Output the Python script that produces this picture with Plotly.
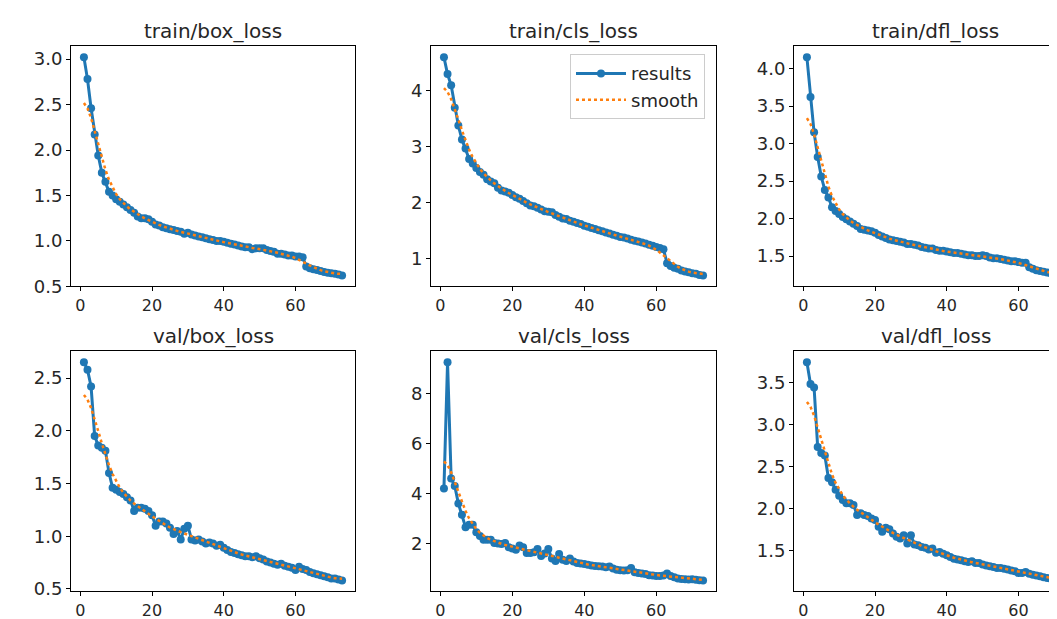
import numpy as np
import plotly.graph_objects as go

epochs = list(range(1, 74))

train_box_loss = [3.02, 2.78, 2.46, 2.17, 1.94, 1.75, 1.65, 1.54, 1.50, 1.46,
                  1.43, 1.40, 1.37, 1.34, 1.31, 1.27, 1.25, 1.25, 1.24, 1.21,
                  1.18, 1.17, 1.15, 1.14, 1.13, 1.12, 1.11, 1.10, 1.08, 1.09,
                  1.07, 1.06, 1.05, 1.04, 1.03, 1.02, 1.01, 1.00, 1.00, 0.99,
                  0.98, 0.97, 0.96, 0.95, 0.94, 0.93, 0.93, 0.91, 0.92, 0.92,
                  0.92, 0.90, 0.89, 0.88, 0.86, 0.86, 0.85, 0.84, 0.84, 0.83,
                  0.83, 0.82, 0.72, 0.70, 0.69, 0.68, 0.67, 0.66, 0.65, 0.645,
                  0.64, 0.63, 0.62]

train_cls_loss = [4.60, 4.30, 4.10, 3.70, 3.38, 3.13, 2.97, 2.78, 2.70, 2.62,
                  2.55, 2.50, 2.42, 2.38, 2.35, 2.27, 2.22, 2.20, 2.18, 2.14,
                  2.10, 2.07, 2.03, 1.99, 1.95, 1.94, 1.91, 1.88, 1.85, 1.84,
                  1.83, 1.78, 1.75, 1.72, 1.71, 1.68, 1.66, 1.64, 1.62, 1.59,
                  1.57, 1.55, 1.53, 1.51, 1.49, 1.47, 1.45, 1.43, 1.41, 1.39,
                  1.38, 1.36, 1.34, 1.32, 1.31, 1.29, 1.27, 1.25, 1.23, 1.21,
                  1.19, 1.17, 0.92, 0.87, 0.84, 0.82, 0.79, 0.77, 0.76, 0.74,
                  0.73, 0.71, 0.70]

train_dfl_loss = [4.15, 3.62, 3.15, 2.82, 2.56, 2.38, 2.28, 2.15, 2.10, 2.06,
                  2.02, 1.99, 1.96, 1.93, 1.90, 1.86, 1.85, 1.84, 1.83, 1.81,
                  1.78, 1.76, 1.74, 1.72, 1.71, 1.70, 1.69, 1.68, 1.66, 1.66,
                  1.65, 1.64, 1.62, 1.61, 1.60, 1.60, 1.58, 1.57, 1.57, 1.56,
                  1.55, 1.54, 1.54, 1.53, 1.52, 1.51, 1.51, 1.50, 1.50, 1.51,
                  1.50, 1.48, 1.47, 1.47, 1.46, 1.45, 1.44, 1.43, 1.43, 1.42,
                  1.41, 1.41, 1.35, 1.33, 1.31, 1.30, 1.29, 1.28, 1.27, 1.27,
                  1.26, 1.25, 1.24]

val_box_loss = [2.65, 2.58, 2.42, 1.95, 1.86, 1.84, 1.81, 1.60, 1.46, 1.44,
                1.42, 1.40, 1.37, 1.34, 1.24, 1.27, 1.27, 1.26, 1.24, 1.20,
                1.10, 1.14, 1.14, 1.12, 1.08, 1.02, 1.05, 0.97, 1.07, 1.10,
                0.97, 0.96, 0.97, 0.95, 0.93, 0.94, 0.93, 0.91, 0.92, 0.89,
                0.87, 0.85, 0.84, 0.83, 0.82, 0.81, 0.81, 0.80, 0.81, 0.79,
                0.78, 0.76, 0.75, 0.74, 0.73, 0.74, 0.72, 0.71, 0.70, 0.68,
                0.71, 0.69, 0.68, 0.66, 0.65, 0.64, 0.63, 0.62, 0.61, 0.60,
                0.60, 0.59, 0.58]

val_cls_loss = [4.20, 9.24, 4.60, 4.30, 3.60, 3.15, 2.65, 2.75, 2.75, 2.45,
                2.30, 2.15, 2.15, 2.15, 2.02, 2.00, 1.98, 2.02, 1.85, 1.80,
                1.75, 1.92, 1.85, 1.62, 1.62, 1.65, 1.78, 1.50, 1.60, 1.78,
                1.40, 1.30, 1.58, 1.35, 1.30, 1.40, 1.28, 1.22, 1.20, 1.18,
                1.15, 1.12, 1.10, 1.09, 1.08, 1.05, 1.08, 1.00, 0.95, 0.93,
                0.92, 0.93, 1.02, 0.85, 0.82, 0.80, 0.78, 0.73, 0.72, 0.70,
                0.70, 0.72, 0.80, 0.70, 0.65, 0.60, 0.58, 0.57, 0.56, 0.57,
                0.55, 0.53, 0.52]

val_dfl_loss = [3.74, 3.48, 3.44, 2.73, 2.66, 2.63, 2.36, 2.31, 2.22, 2.15,
                2.10, 2.06, 2.06, 2.04, 1.92, 1.94, 1.92, 1.91, 1.88, 1.86,
                1.78, 1.72, 1.77, 1.75, 1.70, 1.66, 1.64, 1.68, 1.58, 1.68,
                1.57, 1.56, 1.54, 1.53, 1.51, 1.52, 1.47, 1.48, 1.46, 1.44,
                1.42, 1.40, 1.39, 1.38, 1.37, 1.36, 1.37, 1.35, 1.35, 1.33,
                1.32, 1.31, 1.30, 1.29, 1.29, 1.28, 1.27, 1.26, 1.25, 1.23,
                1.23, 1.24, 1.22, 1.21, 1.20, 1.19, 1.18, 1.17, 1.16, 1.16,
                1.15, 1.15, 1.14]

titles = ["train/box_loss", "train/cls_loss", "train/dfl_loss",
          "val/box_loss", "val/cls_loss", "val/dfl_loss"]
series = [train_box_loss, train_cls_loss, train_dfl_loss,
          val_box_loss, val_cls_loss, val_dfl_loss]
x_tick_vals = [0, 20, 40, 60]
y_dticks = [0.5, 1, 0.5, 0.5, 2, 0.5]
y_formats = [".1f", "d", ".1f", ".1f", "d", ".1f"]


def gaussian_smooth(y, sigma=3.0, truncate=4.0):
    # same as scipy.ndimage.gaussian_filter1d (mode='reflect')
    y = np.asarray(y, dtype=float)
    r = int(truncate * sigma + 0.5)
    k = np.arange(-r, r + 1)
    w = np.exp(-0.5 * (k / sigma) ** 2)
    w /= w.sum()
    ypad = np.pad(y, r, mode="symmetric")
    return np.convolve(ypad, w, mode="valid")


W, H = 1057, 619
col_px = [(63, 347), (423, 708), (786, 1069)]
row_px = [(39, 283), (349, 593)]

BLUE = "#1f77b4"
ORANGE = "#ff7f0e"
FONT = "DejaVu Sans"
TXT = "#262626"

fig = go.Figure()
annotations = []
layout_axes = {}

xmin, xmax = epochs[0] - 0.05 * (epochs[-1] - epochs[0]), epochs[-1] + 0.05 * (epochs[-1] - epochs[0])
px_per_unit = (col_px[0][1] - col_px[0][0]) / (xmax - xmin)

for i, (title, y) in enumerate(zip(titles, series)):
    r, c = divmod(i, 3)
    idx = i + 1
    xa = "x" if idx == 1 else f"x{idx}"
    ya = "y" if idx == 1 else f"y{idx}"
    smooth = gaussian_smooth(y)

    fig.add_trace(go.Scatter(
        x=epochs, y=y, mode="lines+markers", name="results",
        line=dict(color=BLUE, width=3), marker=dict(color=BLUE, size=8),
        xaxis=xa, yaxis=ya, showlegend=(i == 1), legendrank=1))
    fig.add_trace(go.Scatter(
        x=epochs, y=smooth, mode="lines", name="smooth",
        line=dict(color=ORANGE, width=2.5, dash="dot"),
        xaxis=xa, yaxis=ya, showlegend=(i == 1), legendrank=2))

    x0, x1 = col_px[c]
    y0, y1 = row_px[r]
    xr = [xmin, xmax]
    dom_x = [x0 / W, min(x1, W) / W]
    if x1 > W:
        xr = [xmin, xmin + (W - x0) / px_per_unit]
    ymin, ymax = min(y), max(y)
    span = ymax - ymin
    yr = [ymin - 0.05 * span, ymax + 0.05 * span]

    axis_common = dict(showline=True, linecolor="black", linewidth=1,
                       ticks="outside", ticklen=4, tickcolor="black",
                       showgrid=False, zeroline=False,
                       tickfont=dict(family=FONT, size=18, color=TXT))
    layout_axes[f"xaxis{idx if idx > 1 else ''}"] = dict(
        axis_common, domain=dom_x, range=xr, anchor=ya,
        tickmode="array", tickvals=x_tick_vals, mirror=True,
        tickfont=dict(family=FONT, size=16, color=TXT))
    layout_axes[f"yaxis{idx if idx > 1 else ''}"] = dict(
        axis_common, domain=[1 - y1 / H, 1 - y0 / H], range=yr, anchor=xa,
        dtick=y_dticks[i], tick0=0, tickformat=y_formats[i],
        mirror=(x1 <= W))

    annotations.append(dict(
        text=title, xref="paper", yref="paper",
        x=(x0 + x1) / 2 / W, y=1 - (y0 - 16) / H,
        xanchor="center", yanchor="middle", showarrow=False,
        font=dict(family=FONT, size=20, color=TXT)))

fig.update_layout(
    width=W, height=H,
    margin=dict(l=0, r=0, t=0, b=0),
    paper_bgcolor="white", plot_bgcolor="white",
    font=dict(family=FONT, color=TXT),
    annotations=annotations,
    legend=dict(x=697 / W, y=1 - 47 / H, xanchor="right", yanchor="top",
                bgcolor="rgba(255,255,255,0.8)", bordercolor="#cccccc",
                borderwidth=1, font=dict(family=FONT, size=18, color=TXT),
                itemwidth=50, tracegroupgap=0),
    **layout_axes)

fig.write_html("out.html")
